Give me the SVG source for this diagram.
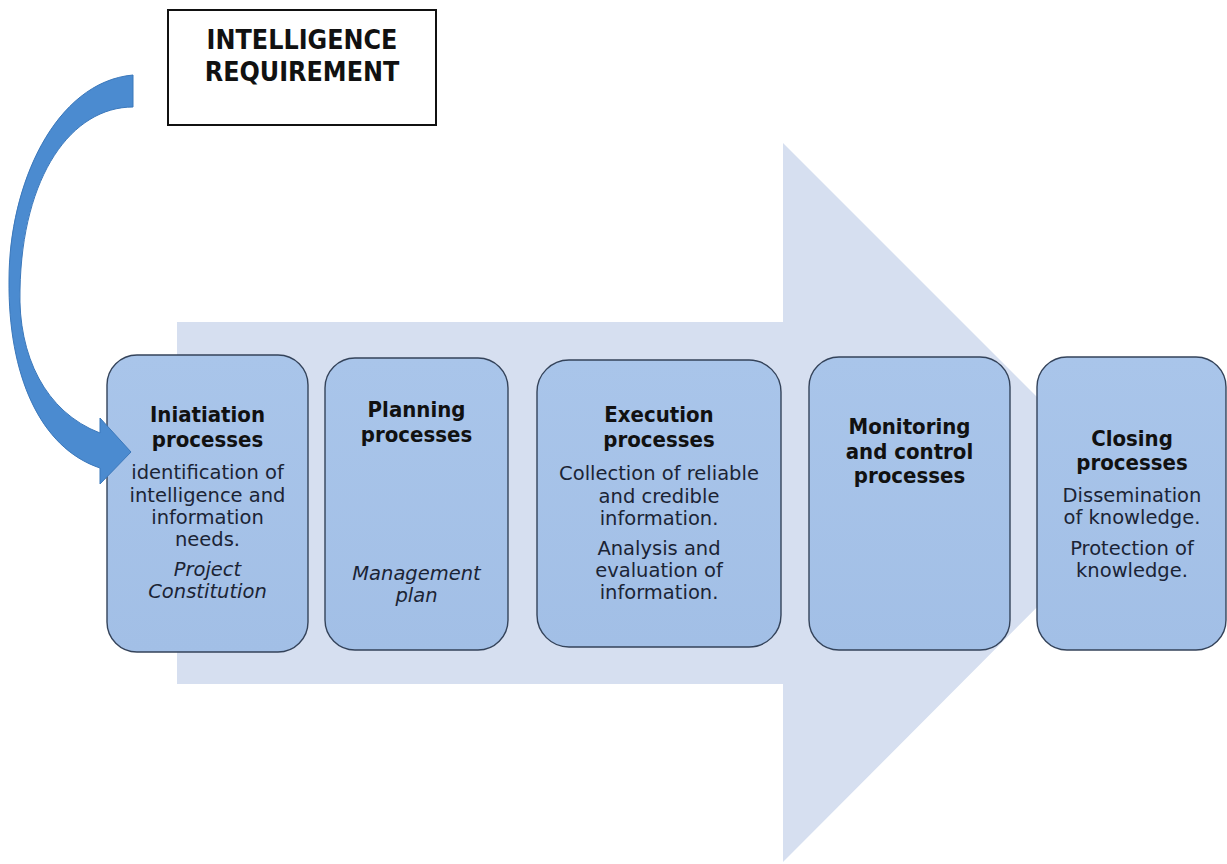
<svg xmlns="http://www.w3.org/2000/svg" width="1227" height="864" viewBox="0 0 1227 864">
<style>
.node{fill:url(#ng);stroke:#34435a;stroke-width:1.4}
.t{font-family:"DejaVu Sans",Verdana,sans-serif;font-size:22px;font-weight:bold;fill:#111;text-anchor:middle}
.b{font-family:"DejaVu Sans",Verdana,sans-serif;font-size:19.5px;fill:#1b2435;text-anchor:middle}
.i{font-style:italic}
.req{font-family:"DejaVu Sans",Verdana,sans-serif;font-size:26px;font-weight:bold;fill:#111;text-anchor:middle}
</style>
<defs>
<linearGradient id="ng" x1="0" y1="0" x2="0" y2="1">
<stop offset="0" stop-color="#a9c5ea"/>
<stop offset="1" stop-color="#a2bfe6"/>
</linearGradient>
</defs>
<rect width="1227" height="864" fill="#ffffff"/>
<g id="big-arrow">
<polygon points="177,322 783,322 783,143 1142,502 783,862 783,684 177,684" fill="#d6dff0"/>
</g>
<g id="requirement">
<rect x="168" y="10" width="268" height="115" fill="#ffffff" stroke="#111" stroke-width="2"/>
<text class="req" transform="translate(302,49) scale(0.92,1)">INTELLIGENCE</text>
<text class="req" transform="translate(302,81) scale(0.92,1)">REQUIREMENT</text>
</g>
<g id="initiation">
<rect class="node" x="107" y="355" width="201" height="297" rx="30"/>
<text class="t" transform="translate(207.5,422) scale(0.9,1)">Iniatiation</text>
<text class="t" transform="translate(207.5,447) scale(0.9,1)">processes</text>
<text class="b" x="207.5" y="479">identification of</text>
<text class="b" x="207.5" y="502">intelligence and</text>
<text class="b" x="207.5" y="524">information</text>
<text class="b" x="207.5" y="546">needs.</text>
<text class="b i" x="207.5" y="576">Project</text>
<text class="b i" x="207.5" y="598">Constitution</text>
</g>
<g id="planning">
<rect class="node" x="325" y="358" width="183" height="292" rx="30"/>
<text class="t" transform="translate(416.5,417) scale(0.9,1)">Planning</text>
<text class="t" transform="translate(416.5,442) scale(0.9,1)">processes</text>
<text class="b i" x="416.5" y="580">Management</text>
<text class="b i" x="416.5" y="602">plan</text>
</g>
<g id="execution">
<rect class="node" x="537" y="360" width="244" height="287" rx="32"/>
<text class="t" transform="translate(659,422) scale(0.9,1)">Execution</text>
<text class="t" transform="translate(659,447) scale(0.9,1)">processes</text>
<text class="b" x="659" y="480">Collection of reliable</text>
<text class="b" x="659" y="503">and credible</text>
<text class="b" x="659" y="525">information.</text>
<text class="b" x="659" y="555">Analysis and</text>
<text class="b" x="659" y="577">evaluation of</text>
<text class="b" x="659" y="599">information.</text>
</g>
<g id="monitoring">
<rect class="node" x="809" y="357" width="201" height="293" rx="30"/>
<text class="t" transform="translate(909.5,434) scale(0.9,1)">Monitoring</text>
<text class="t" transform="translate(909.5,459) scale(0.9,1)">and control</text>
<text class="t" transform="translate(909.5,483) scale(0.9,1)">processes</text>
</g>
<g id="closing">
<rect class="node" x="1037" y="357" width="189" height="293" rx="30"/>
<text class="t" transform="translate(1132,446) scale(0.9,1)">Closing</text>
<text class="t" transform="translate(1132,470) scale(0.9,1)">processes</text>
<text class="b" x="1132" y="502">Dissemination</text>
<text class="b" x="1132" y="524">of knowledge.</text>
<text class="b" x="1132" y="555">Protection of</text>
<text class="b" x="1132" y="577">knowledge.</text>
</g>
<g id="connectors">
<path d="M133,75 L133,107 C72,107 22,175 20,290 C18,355 45,412 100,433 L100,418 L131,452 L100,484 L100,468 C40,448 8,375 9,280 C9,185 55,82 133,75 Z" fill="#4b8bd0" stroke="#3b78bb" stroke-width="1"/>
</g>
</svg>
